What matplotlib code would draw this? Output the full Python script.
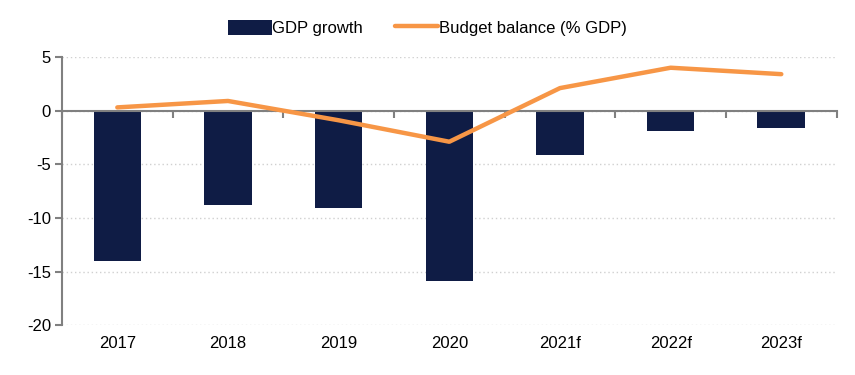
import matplotlib
matplotlib.use("Agg")
import matplotlib.pyplot as plt
import numpy as np

years = ["2017", "2018", "2019", "2020", "2021f", "2022f", "2023f"]
gdp_growth = [-14.0, -8.8, -9.1, -15.9, -4.1, -1.9, -1.6]
budget_balance = [0.3, 0.9, -0.9, -2.9, 2.1, 4.0, 3.4]

NAVY = "#0f1c45"
ORANGE = "#f79646"

plt.rcParams["font.family"] = ["Liberation Sans", "DejaVu Sans"]
plt.rcParams["font.size"] = 12
plt.rcParams["axes.unicode_minus"] = False

fig = plt.figure(figsize=(8.55, 3.75), dpi=100)
ax = fig.add_axes([0.0725, 0.133, 0.906, 0.715])

x = np.arange(len(years))
bars = ax.bar(x, gdp_growth, width=0.43, color=NAVY, label="GDP growth", zorder=2)
line, = ax.plot(x, budget_balance, color=ORANGE, lw=3.2, solid_capstyle="round",
                label="Budget balance (% GDP)", zorder=3)

ax.set_xlim(-0.5, len(years) - 0.5)
ax.set_ylim(-20, 5)
ax.set_yticks([-20, -15, -10, -5, 0, 5])
ax.yaxis.grid(True, color="#d0d0d0", linestyle=(0, (1, 2)), lw=1, zorder=0)

for s in ["top", "right"]:
    ax.spines[s].set_visible(False)
ax.spines["left"].set_color("#808080")
ax.spines["left"].set_linewidth(1.5)
ax.spines["bottom"].set_position(("data", 0))
ax.spines["bottom"].set_color("#808080")
ax.spines["bottom"].set_linewidth(1.5)
ax.spines["bottom"].set_zorder(2.5)

ax.tick_params(axis="y", length=5, width=1.5, color="#808080", labelsize=12, pad=3)
ax.set_xticks(np.arange(-0.5, len(years)), minor=True)
ax.set_xticks(x, [""] * len(years))
ax.tick_params(axis="x", which="major", length=0)
ax.tick_params(axis="x", which="minor", length=5, width=1.5, color="#808080")

sec = ax.secondary_xaxis("bottom")
sec.set_xticks(x, years)
sec.tick_params(length=0, labelsize=12, pad=8)
sec.spines["bottom"].set_visible(False)

fig.legend([bars, line], ["GDP growth", "Budget balance (% GDP)"],
           loc="center", bbox_to_anchor=(0.5, 0.926), ncol=2, frameon=False,
           fontsize=12, handlelength=2.6, handleheight=1.0, columnspacing=1.9,
           handletextpad=0.05)

fig.savefig("out.png", dpi=100)
